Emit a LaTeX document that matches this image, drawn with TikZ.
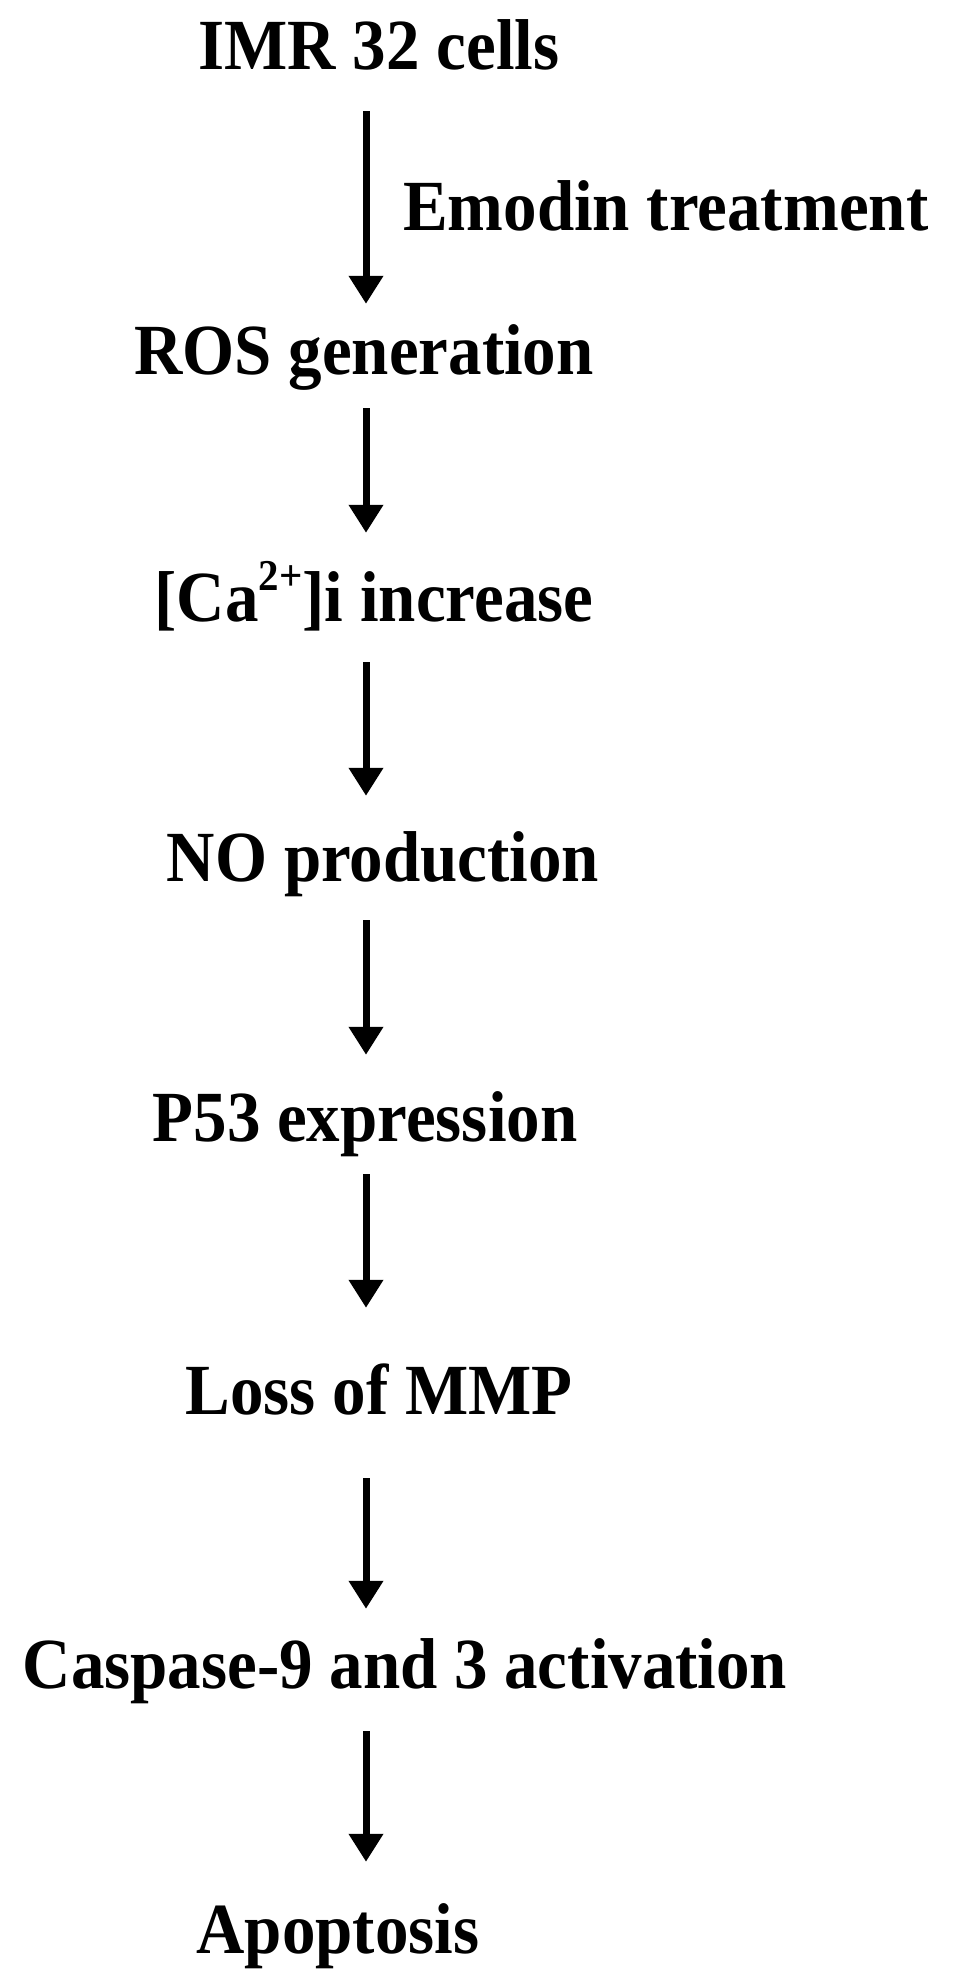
\documentclass[tikz,border=0pt]{standalone}
\usepackage{fontspec}
\setmainfont{Liberation Serif}[FakeStretch=0.93]
\usepackage{tikz}
\usetikzlibrary{arrows.meta}
\tikzset{
	stage/.style={font=\bfseries\fontsize{72}{80}\selectfont, inner sep=0pt, anchor=base, text height=50pt, text depth=16pt},
	flow/.style={line width=7pt, -{Triangle[width=33pt,length=28pt]}}
}
\newcommand{\upidx}[1]{\raisebox{0.42em}{\fontsize{44}{48}\selectfont #1}}

\begin{document}
\begin{tikzpicture}[x=1pt,y=-1pt]
	\useasboundingbox (0,0) rectangle (958,1982);
	\coordinate (ax) at (366,0);
	\node[stage] (imr) at (379,69) {IMR 32 cells};
	\node[stage, anchor=base west] (emodin) at (403,230) {Emodin treatment};
	\node[stage] (ros) at (364,374) {ROS generation};
	\node[stage] (ca) at (374,621) {[Ca\upidx{2+}]i increase};
	\node[stage] (no) at (383,881) {NO production};
	\node[stage] (p53) at (365,1141) {P53 expression};
	\node[stage] (mmp) at (379,1414) {Loss of MMP};
	\node[stage] (casp) at (405,1688) {Caspase-9 and 3 activation};
	\node[stage] (apo) at (338,1953) {Apoptosis};
	% arrows
	\draw[flow, shorten <=26pt, shorten >=20pt] (imr.south -| ax) -- (ros.north -| ax);
	\draw[flow, shorten <=18pt, shorten >=38pt] (ros.south -| ax) -- (ca.north -| ax);
	\draw[flow, shorten <=25pt, shorten >=35pt] (ca.south -| ax) -- (no.north -| ax);
	\draw[flow, shorten <=23pt, shorten >=36pt] (no.south -| ax) -- (p53.north -| ax);
	\draw[flow, shorten <=17pt, shorten >=56pt] (p53.south -| ax) -- (mmp.north -| ax);
	\draw[flow, shorten <=48pt, shorten >=29pt] (mmp.south -| ax) -- (casp.north -| ax);
	\draw[flow, shorten <=27pt, shorten >=41pt] (casp.south -| ax) -- (apo.north -| ax);
\end{tikzpicture}
\end{document}
